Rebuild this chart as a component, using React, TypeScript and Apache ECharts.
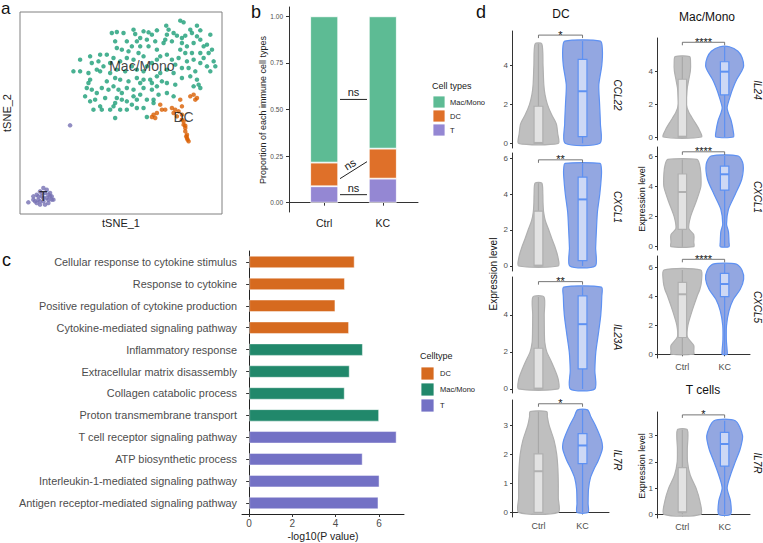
import React, { useEffect, useRef } from 'react';
import * as echarts from 'echarts';

const FONT = "'Liberation Sans', Arial, Helvetica, sans-serif";

// ---------------- Panel a: tSNE ----------------
const tsneMac: number[][] = [
  [18, 27.7], [19, 27.2], [13.8, 26.2], [14.5, 25], [23, 26.2], [24, 24.8], [21, 25], [21.5, 24], [16, 24], [17, 23.2],
  [19.5, 23.2], [27, 23.5], [-2.5, 24], [-1, 24.3], [1, 24], [4, 25], [4.5, 23.7], [7, 24.5], [8.5, 24.2], [9.5, 23.5],
  [11, 24.8], [13.5, 22], [15.5, 21.5], [13, 21], [-1.5, 21.5], [2, 21.5], [5, 21.5], [8, 22], [10.5, 21.5], [3.5, 20],
  [-1, 19.5], [0.5, 19], [2.5, 18.5], [6, 20], [8.5, 20], [11, 19], [18.5, 21], [20, 20], [22, 21], [24, 22],
  [26, 20.5], [18, 19], [19.5, 18], [21.5, 18], [24, 18], [25, 16.5], [26.5, 18], [28, 15.5], [28.5, 14], [26, 14],
  [27, 12.5], [24, 15], [22, 16], [20, 15.5], [17.5, 16.5], [15.5, 16], [14, 17.5], [12, 17], [11, 16], [9.5, 15],
  [8, 14], [7, 17], [5.5, 18], [4, 16], [2, 16.5], [0, 15.5], [-2, 16.5], [-4, 17.5], [-6, 17.5], [-6.5, 15.5],
  [-5, 14], [-7, 13], [-8.5, 15], [-12, 16], [-14, 12.5], [-12, 12.5], [-9, 10], [-6, 12.5], [-3, 12], [-1.5, 10.5],
  [-1, 13], [0, 10], [2.5, 9.5], [5, 10.5], [5, 13], [7, 12.5], [9, 10], [11, 11], [12, 12], [14, 13],
  [16, 12], [18.5, 10.5], [21, 11], [23, 10], [23.5, 8.5], [24, 7.5], [22, 8], [16.5, 8.5], [14, 9], [11, 8],
  [9.5, 9], [7, 7.5], [6, 9], [4, 7], [2, 7.5], [0.5, 6], [-2, 8], [-3.5, 7], [-5.5, 7.5], [-7, 6],
  [-8.5, 7], [-10, 7.5], [-10.5, 5], [-9.5, 9], [-7.5, 4], [-6, 2], [-8, 1], [-5.5, 1], [-3, 1], [-2, 2],
  [-1.5, 3], [-1, 4.5], [0.5, 4], [2, 3.5], [4, 5], [5, 4], [6, 5.5], [8, 4], [10, 4], [11.5, 5.5],
  [7, 1.5], [5, 1.5], [2, 1], [0, 1], [-1.5, -1.5], [8, -1.2], [10, 3], [14, 6], [16, 5],
  [6, 22.5], [14, 23.5], [18.5, 22.5], [23, 23], [25, 20], [27.5, 19], [16.5, 14.5], [18.5, 13.5], [20.5, 13.5], [22.5, 12.5],
  [-9.5, 12], [-4, 9.5], [3.5, 14], [-0.5, 7], [7, 10], [12.5, 9.5], [-4.5, 4.5], [-9, 3.5], [3.5, 2.5], [9.5, 7],
  [1.5, 12.5], [-3, 15], [-9, 17],
];
const tsneDC: number[][] = [
  [10, -0.5], [10.5, -1.5], [9.5, -1.2], [11, 0], [12, 2.5], [12.5, 1], [13.5, 1], [15.5, 1.5], [16, 0], [17.5, 0.5],
  [18, 4], [18.5, 2], [17, -1], [18.5, -2], [19, -3.5], [19.5, -4.5], [19.5, -5.5], [20, -6.5], [20, -7.5], [20.5, -8.5],
  [21, 5], [22, 5.5], [23, 4.5], [22.5, 4], [18.5, -0.5], [19, -2.5], [19.5, -3.8], [19.8, -7], [16.5, 1], [20.2, -8],
];
const tsneT: number[][] = [
  [-27.5, -26.8], [-26, -25], [-25, -24.5], [-24.5, -26], [-24, -23.5], [-23.5, -25], [-23, -26.5], [-22.5, -24], [-22, -25.5], [-21.5, -27],
  [-21, -25], [-20.5, -26], [-25.5, -26.5], [-24, -27.5], [-22, -23], [-23, -22.5], [-25, -27], [-21, -24], [-20, -26], [-21.5, -24.5],
  [-22.5, -27.5], [-23.5, -24], [-26, -26], [-24.5, -25], [-23, -25.5], [-24, -26.5], [-21.5, -26], [-20.5, -25], [-15, -3.7],
];
const clusterLabels: (number | string)[][] = [[6.5, 14, 'Mac/Mono'], [19, -1.2, 'DC'], [-23, -25, 'T']];

// ---------------- Panel b: proportions ----------------
const groupX = [1, 2];
const groupNames = ['Ctrl', 'KC'];
const propT = [0.088, 0.129];
const propDC = [0.127, 0.161];
const propMac = [0.785, 0.71];
const nsLinks = [
  [1.27, 0.554, 1.73, 0.554],
  [1.27, 0.129, 1.73, 0.22],
  [1.27, 0.043, 1.73, 0.043],
];

// ---------------- Panel c: GO terms ----------------
const goTerms = [
  'Cellular response to cytokine stimulus',
  'Response to cytokine',
  'Positive regulation of cytokine production',
  'Cytokine-mediated signaling pathway',
  'Inflammatory response',
  'Extracellular matrix disassembly',
  'Collagen catabolic process',
  'Proton transmembrane transport',
  'T cell receptor signaling pathway',
  'ATP biosynthetic process',
  'Interleukin-1-mediated signaling pathway',
  'Antigen receptor-mediated signaling pathway',
];
const goValues = [4.88, 4.43, 3.99, 4.62, 5.26, 4.65, 4.42, 6.01, 6.82, 5.25, 6.03, 5.98];
const goCelltype = ['DC', 'DC', 'DC', 'DC', 'Mac/Mono', 'Mac/Mono', 'Mac/Mono', 'Mac/Mono', 'T', 'T', 'T', 'T'];

// ---------------- Panel d: violins ----------------
// profile: [expression, relative half-width]; box: [min, q1, median, q3, max]
const ccl22CtrlProfile = [[0, 1.0], [0.5, 0.97], [1, 0.9], [1.5, 0.65], [2, 0.45], [2.5, 0.33], [3, 0.27], [4, 0.23], [5.1, 0.17]];
const ccl22CtrlBox = [0, 0, 0.02, 1.9, 5.1];
const ccl22KCProfile = [[0, 0.88], [1, 0.9], [2, 0.86], [3, 0.82], [4, 0.97], [4.8, 1.0], [5.24, 0.9]];
const ccl22KCBox = [0, 0.34, 2.67, 4.3, 5.24];

const dcCxcl1CtrlProfile = [[0, 1.0], [0.5, 0.98], [1, 0.85], [1.5, 0.68], [2, 0.52], [2.5, 0.35], [3, 0.26], [3.5, 0.23], [4, 0.22], [4.6, 0.17]];
const dcCxcl1CtrlBox = [0, 0, 0.02, 3.05, 4.6];
const dcCxcl1KCProfile = [[0, 0.64], [1, 0.66], [2, 0.7], [3, 0.75], [4, 0.87], [5, 0.95], [5.4, 0.95], [5.7, 0.88]];
const dcCxcl1KCBox = [0, 0.3, 3.7, 4.94, 5.7];

const il23aCtrlProfile = [[0, 1.0], [0.5, 1.0], [1, 0.84], [1.5, 0.64], [2, 0.42], [2.5, 0.32], [3, 0.3], [4, 0.29], [4.97, 0.28]];
const il23aCtrlBox = [0, 0, 0.02, 2.2, 4.97];
const il23aKCProfile = [[0, 0.62], [1, 0.62], [2, 0.67], [3, 0.8], [4, 0.92], [5, 0.97], [5.5, 0.95]];
const il23aKCBox = [0, 1.08, 3.5, 5.03, 5.5];

const dcIl7rCtrlProfile = [[0, 1.0], [0.5, 1.0], [1, 1.0], [1.5, 0.98], [2, 0.92], [2.5, 0.78], [3, 0.54], [3.3, 0.45], [3.48, 0.42]];
const dcIl7rCtrlBox = [0, 0, 1.42, 2.02, 3.48];
const dcIl7rKCProfile = [[0, 0.28], [0.3, 0.28], [0.8, 0.3], [1.2, 0.4], [1.5, 0.58], [1.8, 0.8], [2.2, 1.0], [2.5, 0.95], [3, 0.65], [3.3, 0.42], [3.54, 0.25]];
const dcIl7rKCBox = [0, 1.68, 2.31, 2.72, 3.54];

const il24CtrlProfile = [[0, 1.0], [0.5, 0.86], [1, 0.6], [1.5, 0.34], [2, 0.2], [2.5, 0.22], [3, 0.26], [3.5, 0.34], [4, 0.42], [4.5, 0.43], [4.87, 0.38]];
const il24CtrlBox = [0, 0, 0.02, 3.5, 4.87];
const il24KCProfile = [[0, 0.46], [0.3, 0.46], [1, 0.34], [1.5, 0.18], [1.8, 0.13], [2.5, 0.3], [3, 0.45], [3.5, 0.64], [4, 0.9], [4.3, 1.0], [4.8, 0.92], [5.2, 0.7], [5.47, 0.25]];
const il24KCBox = [0, 2.55, 3.96, 4.56, 5.47];

const macCxcl1CtrlProfile = [[0, 0.6], [0.3, 0.6], [0.8, 0.6], [1.2, 0.34], [2, 0.43], [3, 0.72], [4, 0.97], [4.9, 0.97], [5.5, 0.9], [5.82, 0.77]];
const macCxcl1CtrlBox = [0, 1.16, 3.65, 4.85, 5.82];
const macCxcl1KCProfile = [[0, 0.23], [0.3, 0.23], [1, 0.2], [1.5, 0.1], [2.5, 0.2], [3.5, 0.56], [4.5, 0.9], [5.5, 0.97], [6.05, 0.72]];
const macCxcl1KCBox = [0, 3.78, 4.83, 5.38, 6.05];

const cxcl5CtrlProfile = [[0, 0.6], [0.2, 0.6], [0.6, 0.6], [1.2, 0.26], [2, 0.29], [3, 0.51], [4, 0.77], [4.5, 0.92], [5, 1.0], [5.83, 0.97]];
const cxcl5CtrlBox = [0, 1.16, 4.15, 4.98, 5.83];
const cxcl5KCProfile = [[0, 0.13], [0.3, 0.13], [1, 0.09], [2, 0.1], [3, 0.23], [3.8, 0.46], [4.5, 0.82], [5.2, 1.0], [5.8, 0.92], [6.24, 0.62]];
const cxcl5KCBox = [0, 3.99, 4.86, 5.6, 6.24];

const tIl7rCtrlProfile = [[0, 0.97], [0.5, 0.92], [1, 0.72], [1.5, 0.41], [2, 0.27], [2.5, 0.26], [3.22, 0.26]];
const tIl7rCtrlBox = [0, 0.08, 0.08, 1.78, 3.22];
const tIl7rKCProfile = [[0, 0.31], [0.5, 0.31], [1, 0.13], [1.5, 0.31], [2, 0.56], [2.5, 0.82], [3, 0.94], [3.57, 0.56]];
const tIl7rKCBox = [0, 1.84, 2.68, 3.12, 3.57];

const geneNames = ['CCL22', 'CXCL1', 'IL23A', 'IL7R', 'IL24', 'CXCL1', 'CXCL5', 'IL7R'];
const bracketY = [5.55, 5.9, 5.8, 3.75, 5.74, 6.33, 6.57, 3.79];
const bracketStars = ['*', '**', '**', '*', '****', '****', '****', '*'];
const yTickValues = [[0, 2, 4], [0, 2, 4, 6], [0, 2, 4], [0, 1, 2, 3], [0, 2, 4], [0, 2, 4, 6], [0, 2, 4, 6], [0, 1, 2, 3]];
const yRanges = [[-0.24, 5.76], [-0.28, 6.28], [-0.22, 6.05], [-0.16, 3.88], [-0.18, 6.0], [-0.22, 6.65], [-0.26, 6.8], [-0.14, 3.9]];

const violinSets = [
  [{ profile: ccl22CtrlProfile, box: ccl22CtrlBox }, { profile: ccl22KCProfile, box: ccl22KCBox }],
  [{ profile: dcCxcl1CtrlProfile, box: dcCxcl1CtrlBox }, { profile: dcCxcl1KCProfile, box: dcCxcl1KCBox }],
  [{ profile: il23aCtrlProfile, box: il23aCtrlBox }, { profile: il23aKCProfile, box: il23aKCBox }],
  [{ profile: dcIl7rCtrlProfile, box: dcIl7rCtrlBox }, { profile: dcIl7rKCProfile, box: dcIl7rKCBox }],
  [{ profile: il24CtrlProfile, box: il24CtrlBox }, { profile: il24KCProfile, box: il24KCBox }],
  [{ profile: macCxcl1CtrlProfile, box: macCxcl1CtrlBox }, { profile: macCxcl1KCProfile, box: macCxcl1KCBox }],
  [{ profile: cxcl5CtrlProfile, box: cxcl5CtrlBox }, { profile: cxcl5KCProfile, box: cxcl5KCBox }],
  [{ profile: tIl7rCtrlProfile, box: tIl7rCtrlBox }, { profile: tIl7rKCProfile, box: tIl7rKCBox }],
];

// layout of violin panels [left, top, width, height]
const dGrids = [
  [512, 31, 97, 117], [512, 153, 97, 118], [512, 277, 97, 116], [512, 400, 97, 117],
  [657, 38, 93, 102], [657, 147, 93, 103], [657, 256, 93, 102], [657, 412, 93, 106],
];
const bottomPanels = [3, 6, 7];

const COL = {
  mac: '#5DBB94', dc: '#DF7029', t: '#9487D3',
  cDC: '#D66A1F', cMac: '#21886B', cT: '#7371C5',
  sMac: '#1B9E77', sDC: '#D95F02', sT: '#7570B3',
};
const GRAY = { fill: '#BFBFBF', stroke: '#B0B0B0', line: '#A8A8A8', box: '#E2E2E2' };
const BLUE = { fill: '#93A7E1', stroke: '#5E91F2', line: '#5E91F2', box: '#CDD8F5' };

const makeViolinRender = (set: any[]) => (params: any, api: any) => {
  const idx = params.dataIndex;
  const unit = api.size([1, 0])[0];
  if (idx < 2) {
    const v = set[idx];
    const col = idx === 0 ? GRAY : BLUE;
    const x = api.value(0);
    const cx = api.coord([x, 0])[0];
    const left = v.profile.map((p: number[]) => [cx - p[1] * unit * 0.45, api.coord([x, p[0]])[1]]);
    const right = v.profile.slice().reverse().map((p: number[]) => [cx + p[1] * unit * 0.45, api.coord([x, p[0]])[1]]);
    const [mn, q1, md, q3, mx] = v.box;
    const bh = unit * 0.1;
    const yq1 = api.coord([x, q1])[1];
    const yq3 = api.coord([x, q3])[1];
    const ymd = api.coord([x, md])[1];
    return {
      type: 'group',
      children: [
        { type: 'polygon', shape: { points: left.concat(right), smooth: 0.25 }, style: { fill: col.fill, stroke: col.stroke, lineWidth: 1.2 } },
        { type: 'line', shape: { x1: cx, y1: api.coord([x, mn])[1], x2: cx, y2: api.coord([x, mx])[1] }, style: { stroke: col.line, lineWidth: 1.2 } },
        { type: 'rect', shape: { x: cx - bh, y: yq3, width: 2 * bh, height: Math.max(yq1 - yq3, 1) }, style: { fill: col.box, stroke: col.stroke, lineWidth: 1.2 } },
        { type: 'line', shape: { x1: cx - bh, y1: ymd, x2: cx + bh, y2: ymd }, style: { stroke: col.stroke, lineWidth: 2 } },
      ],
    };
  }
  const yb = api.coord([1, api.value(1)])[1];
  const x1 = api.coord([1, 0])[0];
  const x2 = api.coord([2, 0])[0];
  return {
    type: 'group',
    children: [
      { type: 'polyline', shape: { points: [[x1, yb + 3], [x1, yb], [x2, yb], [x2, yb + 3]] }, style: { stroke: '#666', lineWidth: 0.9, fill: 'none' } },
      { type: 'text', style: { text: api.value(2) as any, x: (x1 + x2) / 2, y: yb + 5, align: 'center', verticalAlign: 'bottom', fontSize: 11, fill: '#111', fontFamily: FONT } },
    ],
  };
};

const nsRender = (params: any, api: any) => {
  const p1 = api.coord([api.value(0), api.value(1)]);
  const p2 = api.coord([api.value(2), api.value(3)]);
  const dx = p2[0] - p1[0];
  const dy = p2[1] - p1[1];
  const len = Math.sqrt(dx * dx + dy * dy);
  const nx = dy / len;
  const ny = -dx / len;
  const mx = (p1[0] + p2[0]) / 2 + nx * 7;
  const my = (p1[1] + p2[1]) / 2 + ny * 7;
  return {
    type: 'group',
    children: [
      { type: 'line', shape: { x1: p1[0], y1: p1[1], x2: p2[0], y2: p2[1] }, style: { stroke: '#222', lineWidth: 1 } },
      { type: 'text', x: mx, y: my, rotation: -Math.atan2(dy, dx), style: { text: 'ns', x: 0, y: 0, align: 'center', verticalAlign: 'middle', fontSize: 11, fill: '#222', fontFamily: FONT } },
    ],
  };
};

function buildOption() {
  const grid: any[] = [
    { left: 20, top: 12, width: 202, height: 202, show: true, borderColor: '#808080', borderWidth: 1, backgroundColor: 'transparent' },
    { left: 289, top: 7, width: 129, height: 205 },
    { left: 242, top: 251, width: 162, height: 263 },
  ];
  dGrids.forEach((g) => grid.push({ left: g[0], top: g[1], width: g[2], height: g[3] }));
  // grid 11: bars of panel b (category positions match ggplot's discrete scale)
  grid.push({ left: 294.9, top: 7, width: 117.2, height: 205 });
  grid.forEach((g) => { g.containLabel = false; g.outerBoundsMode = 'none'; });

  const axisTextColor = '#4D4D4D';
  const xAxis: any[] = [
    { gridIndex: 0, type: 'value', min: -30, max: 30.5, show: false },
    {
      gridIndex: 1, type: 'value', min: 0.4, max: 2.6,
      axisLine: { show: true, lineStyle: { color: '#333', width: 1 } },
      axisTick: { show: true, length: 3, customValues: groupX, lineStyle: { color: '#333' } },
      axisLabel: { customValues: groupX, formatter: (v: number) => groupNames[groupX.indexOf(v)] || '', fontSize: 10.5, color: '#222', margin: 5, fontFamily: FONT },
      splitLine: { show: false },
    },
    {
      gridIndex: 2, type: 'value', min: -0.33, max: 7.16,
      axisLine: { show: true, lineStyle: { color: '#222', width: 1 } },
      axisTick: { show: true, length: 3, customValues: [0, 2, 4, 6], lineStyle: { color: '#333' } },
      axisLabel: { customValues: [0, 2, 4, 6], fontSize: 10, color: axisTextColor, margin: 4, fontFamily: FONT },
      splitLine: { show: false },
    },
  ];
  const yAxis: any[] = [
    { gridIndex: 0, type: 'value', min: -30.3, max: 30.3, show: false },
    {
      gridIndex: 1, type: 'value', min: -0.05, max: 1.05,
      axisLine: { show: true, lineStyle: { color: '#333', width: 1 } },
      axisTick: { show: true, length: 3, customValues: [0, 0.25, 0.5, 0.75, 1], lineStyle: { color: '#333' } },
      axisLabel: { customValues: [0, 0.25, 0.5, 0.75, 1], formatter: (v: number) => v.toFixed(2), fontSize: 6.5, color: axisTextColor, margin: 6, fontFamily: FONT },
      splitLine: { show: false },
    },
    {
      gridIndex: 2, type: 'category', data: goTerms, inverse: true,
      axisLine: { show: true, lineStyle: { color: '#222', width: 1 } },
      axisTick: { show: true, length: 3, alignWithLabel: true, lineStyle: { color: '#333' } },
      axisLabel: { fontSize: 10.9, color: axisTextColor, margin: 5, fontFamily: FONT },
      splitLine: { show: false },
    },
  ];
  dGrids.forEach((g, k) => {
    const isBottom = bottomPanels.indexOf(k) >= 0;
    xAxis.push({
      gridIndex: 3 + k, type: 'value', min: 0.4, max: 2.6,
      axisLine: { show: isBottom, lineStyle: { color: '#333', width: 1 } },
      axisTick: { show: isBottom, length: 2, customValues: groupX, lineStyle: { color: '#333' } },
      axisLabel: { show: isBottom, customValues: groupX, formatter: (v: number) => groupNames[groupX.indexOf(v)] || '', fontSize: 9, color: axisTextColor, margin: 4, fontFamily: FONT },
      splitLine: { show: false },
    });
    yAxis.push({
      gridIndex: 3 + k, type: 'value', min: yRanges[k][0], max: yRanges[k][1],
      axisLine: { show: true, lineStyle: { color: '#333', width: 1 } },
      axisTick: { show: true, length: 2, customValues: yTickValues[k], lineStyle: { color: '#333' } },
      axisLabel: { customValues: yTickValues[k], fontSize: 8, color: axisTextColor, margin: 4, fontFamily: FONT },
      splitLine: { show: false },
    });
  });
  // axes of grid 11 (hidden): stacked bars of panel b
  xAxis.push({ gridIndex: 11, type: 'category', data: groupNames, boundaryGap: true, show: false });
  yAxis.push({ gridIndex: 11, type: 'value', min: -0.05, max: 1.05, show: false });

  const series: any[] = [
    { type: 'scatter', xAxisIndex: 0, yAxisIndex: 0, data: tsneMac, symbolSize: 4.5, itemStyle: { color: COL.sMac }, silent: true },
    { type: 'scatter', xAxisIndex: 0, yAxisIndex: 0, data: tsneDC, symbolSize: 4.5, itemStyle: { color: COL.sDC }, silent: true },
    { type: 'scatter', xAxisIndex: 0, yAxisIndex: 0, data: tsneT, symbolSize: 4.5, itemStyle: { color: COL.sT }, silent: true },
    {
      type: 'scatter', xAxisIndex: 0, yAxisIndex: 0, data: clusterLabels, symbolSize: 1, itemStyle: { color: 'rgba(0,0,0,0)' }, silent: true,
      label: { show: true, position: 'inside', formatter: (p: any) => p.data[2], fontSize: 14, color: '#111', fontFamily: FONT },
    },
    { type: 'bar', xAxisIndex: 11, yAxisIndex: 11, stack: 'p', barWidth: 28, data: propT, itemStyle: { color: COL.t, borderColor: '#fff', borderWidth: 0.8 } },
    { type: 'bar', xAxisIndex: 11, yAxisIndex: 11, stack: 'p', barWidth: 28, data: propDC, itemStyle: { color: COL.dc, borderColor: '#fff', borderWidth: 0.8 } },
    { type: 'bar', xAxisIndex: 11, yAxisIndex: 11, stack: 'p', barWidth: 28, data: propMac, itemStyle: { color: COL.mac, borderColor: '#fff', borderWidth: 0.8 } },
    { type: 'custom', xAxisIndex: 1, yAxisIndex: 1, data: nsLinks, encode: { x: [0, 2], y: [1, 3] }, renderItem: nsRender, silent: true },
    {
      type: 'bar', xAxisIndex: 2, yAxisIndex: 2, barWidth: 12.5,
      data: goValues.map((v, i) => ({
        value: v,
        itemStyle: { color: goCelltype[i] === 'DC' ? COL.cDC : goCelltype[i] === 'T' ? COL.cT : COL.cMac, borderColor: 'rgba(255,255,255,0.45)', borderWidth: 1 },
      })),
    },
  ];
  violinSets.forEach((set, k) => {
    series.push({
      type: 'custom', xAxisIndex: 3 + k, yAxisIndex: 3 + k, silent: true,
      data: [[1, 0, ''], [2, 0, ''], [1.5, bracketY[k], bracketStars[k]]],
      encode: { x: 0, y: 1 },
      renderItem: makeViolinRender(set),
    });
  });

  const txt = (text: string, x: number, y: number, size: number, opts: any = {}) => ({
    type: 'text', x, y, rotation: opts.rotation || 0, silent: true,
    style: {
      text, x: 0, y: 0, fontSize: size, fontFamily: FONT, fill: opts.fill || '#111',
      align: opts.align || 'center', verticalAlign: opts.va || 'middle', fontStyle: opts.italic ? 'italic' : 'normal', fontWeight: opts.bold ? 'bold' : 'normal',
    },
  });
  const rect = (x: number, y: number, w: number, h: number, fill: string) => ({ type: 'rect', silent: true, shape: { x, y, width: w, height: h }, style: { fill, stroke: '#fff', lineWidth: 0.8 } });

  const geneLabelPos = [[617, 95], [617, 207], [617, 337], [617, 460], [757, 90], [757, 197], [757, 307], [757, 463]];
  const graphics: any[] = [
    txt('a', 1, 0, 17, { align: 'left', va: 'top' }),
    txt('b', 251, 21, 18, { align: 'left', va: 'bottom' }),
    txt('c', 2, 269, 18, { align: 'left', va: 'bottom' }),
    txt('d', 476, 21, 18, { align: 'left', va: 'bottom' }),
    txt('tSNE_1', 121, 223, 11, { fill: '#222' }),
    txt('tSNE_2', 7, 113, 11, { fill: '#222', rotation: Math.PI / 2 }),
    txt('Proportion of each immune cell types', 263, 110, 9, { fill: '#222', rotation: Math.PI / 2 }),
    txt('Cell types', 432, 86, 9, { align: 'left', fill: '#222' }),
    rect(433, 96, 12, 12, COL.mac), rect(433, 110, 12, 12, COL.dc), rect(433, 124, 12, 12, COL.t),
    txt('Mac/Mono', 450, 102, 7.5, { align: 'left', fill: '#222' }),
    txt('DC', 450, 116, 7.5, { align: 'left', fill: '#222' }),
    txt('T', 450, 130, 7.5, { align: 'left', fill: '#222' }),
    txt('-log10(P value)', 323, 536, 10.5, { fill: '#222' }),
    txt('Celltype', 420, 356, 9, { align: 'left', fill: '#222' }),
    rect(421, 367, 13, 13, COL.cDC), rect(421, 383, 13, 13, COL.cMac), rect(421, 399, 13, 13, COL.cT),
    txt('DC', 440, 373.5, 7.5, { align: 'left', fill: '#222' }),
    txt('Mac/Mono', 440, 389.5, 7.5, { align: 'left', fill: '#222' }),
    txt('T', 440, 405.5, 7.5, { align: 'left', fill: '#222' }),
    txt('DC', 561, 14, 12, { fill: '#111' }),
    txt('Mac/Mono', 707, 17, 12, { fill: '#111' }),
    txt('T cells', 703, 390, 12, { fill: '#111' }),
    txt('Expression level', 493, 274, 10, { fill: '#111', rotation: Math.PI / 2 }),
    txt('Expression level', 642, 199, 9, { fill: '#111', rotation: Math.PI / 2 }),
    txt('Expression level', 642, 466, 9, { fill: '#111', rotation: Math.PI / 2 }),
  ];
  geneNames.forEach((g, k) => {
    graphics.push(txt(g, geneLabelPos[k][0], geneLabelPos[k][1], 10, { fill: '#111', italic: true, rotation: -Math.PI / 2 }));
  });

  return {
    animation: false,
    backgroundColor: '#ffffff',
    textStyle: { fontFamily: FONT },
    grid, xAxis, yAxis, series,
    graphic: { elements: graphics },
  };
}

export default function App() {
  const ref = useRef<HTMLDivElement>(null);
  useEffect(() => {
    if (!ref.current) return;
    const chart = echarts.init(ref.current, undefined, { renderer: 'svg' });
    chart.setOption(buildOption() as any);
    return () => chart.dispose();
  }, []);
  return <div ref={ref} style={{ position: 'fixed', left: 0, top: 0, width: 763, height: 543, background: '#fff' }} />;
}
